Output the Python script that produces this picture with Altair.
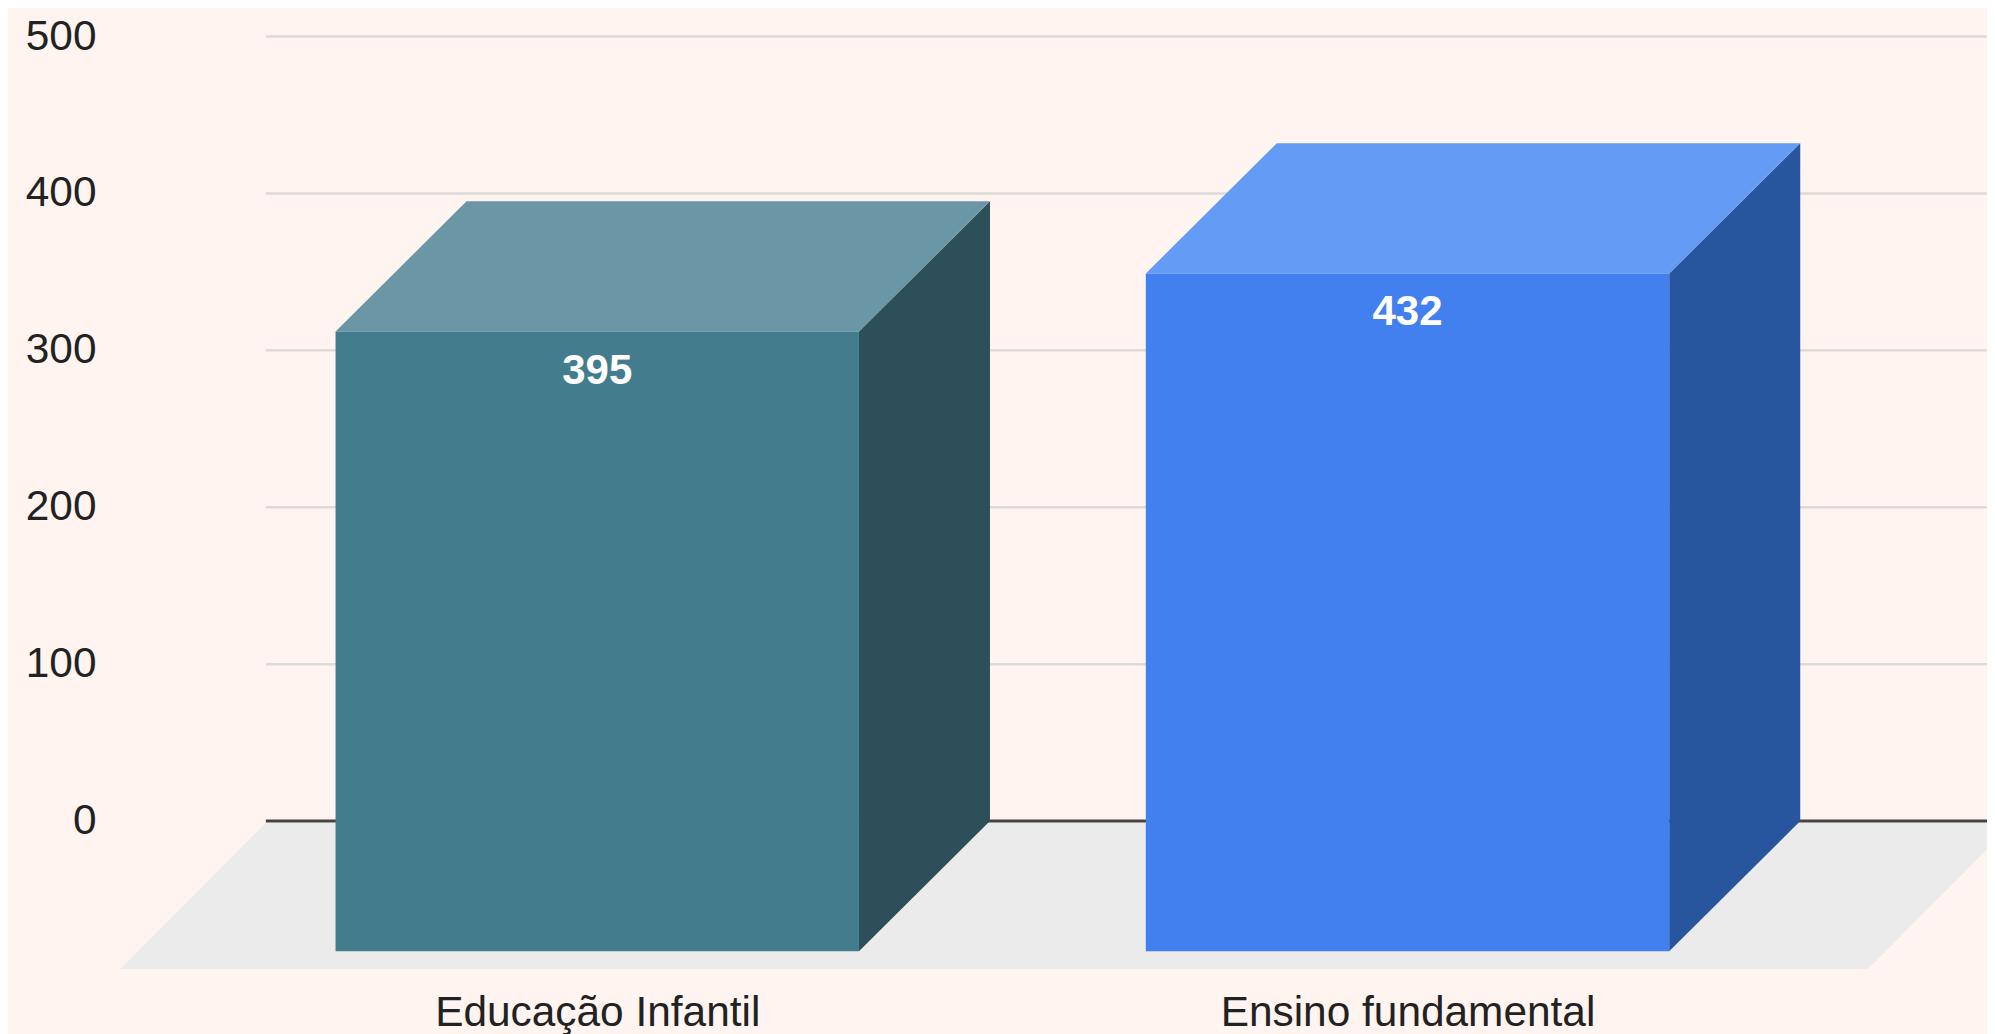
import altair as alt
import pandas as pd

categories = ["Educação Infantil", "Ensino fundamental"]
values = [395, 432]
front_colors = ["#437c8d", "#4280ef"]
side_colors = ["#2d4f5a", "#28569e"]
top_colors = ["#6a96a5", "#639bf5"]
y_ticks = [0, 100, 200, 300, 400, 500]

BG = "#fff4ef"
FONT = "Liberation Sans"
HALF = 0.323        # half bar width, in category steps
DX = 0.1617         # depth along x, in category steps
DY = 83.0           # depth along y, in value units
FLOOR = -94.3       # floor front edge, in value units

x_scale = alt.Scale(domain=[-0.6137, 1.7152], nice=False, zero=False)
y_scale = alt.Scale(domain=[-104.5, 518.2], nice=False, zero=False)

x_axis = alt.Axis(
    values=[0, 1],
    labelExpr="datum.value === 0 ? '%s' : '%s'" % (categories[0], categories[1]),
    title=None, grid=False, domain=False, ticks=False,
    labelFont=FONT, labelFontSize=42.4, labelColor="#222222",
    labelBaseline="alphabetic", labelPadding=40, labelLimit=800,
    labelOverlap=False, labelFlush=False,
)
y_axis = alt.Axis(
    values=y_ticks, title=None, grid=False, domain=False, ticks=False,
    labelFont=FONT, labelFontSize=42.4, labelColor="#222222",
    labelPadding=4, labelOffset=-0.5, labelOverlap=False, labelFlush=False,
)


def X(field="x"):
    return alt.X(field, type="quantitative", scale=x_scale, axis=x_axis)


def Y(field="y"):
    return alt.Y(field, type="quantitative", scale=y_scale, axis=y_axis)


fronts, sides, tops = [], [], []
for i, (v, fc, sc, tc) in enumerate(zip(values, front_colors, side_colors, top_colors)):
    l, r = i - HALF, i + HALF
    fronts.append(dict(x=l, x2=r, y=-DY, y2=v - DY, fill=fc, label=str(v), cx=i))
    sides += [
        dict(x=r, y=-DY, y2=v - DY, fill=sc),
        dict(x=r + DX, y=0, y2=v, fill=sc),
    ]
    tops += [
        dict(y=v - DY, x=l, x2=r, fill=tc),
        dict(y=v, x=l + DX, x2=r + DX, fill=tc),
    ]

floor_df = pd.DataFrame(
    [
        dict(y=FLOOR, x=-0.589, x2=1.568),
        dict(y=-1.2, x=-0.409, x2=1.748),
    ]
)
grid_df = pd.DataFrame({"y": [t for t in y_ticks if t != 0]}).assign(x=-0.409, x2=1.7152)
zero_df = pd.DataFrame({"y": [0], "x": [-0.409], "x2": [1.7152]})

floor = (
    alt.Chart(floor_df)
    .mark_area(orient="horizontal", color="#ebebeb")
    .encode(x=X(), x2="x2", y=Y())
)
grid = (
    alt.Chart(grid_df)
    .mark_rule(color="#dedad7", strokeWidth=2.5)
    .encode(x=X(), x2="x2", y=Y())
)
zero = (
    alt.Chart(zero_df)
    .mark_rule(color="#444444", strokeWidth=3)
    .encode(x=X(), x2="x2", y=Y())
)
side = (
    alt.Chart(pd.DataFrame(sides))
    .mark_area(orient="vertical")
    .encode(x=X(), y=Y(), y2="y2", color=alt.Color("fill:N", scale=None))
)
top = (
    alt.Chart(pd.DataFrame(tops))
    .mark_area(orient="horizontal")
    .encode(x=X(), x2="x2", y=Y(), color=alt.Color("fill:N", scale=None))
)
front_df = pd.DataFrame(fronts)
front = (
    alt.Chart(front_df)
    .mark_rect()
    .encode(x=X(), x2="x2", y=Y(), y2="y2", color=alt.Color("fill:N", scale=None))
)
labels = (
    alt.Chart(front_df)
    .mark_text(font=FONT, fontSize=42, fontWeight="bold", color="#ffffff", baseline="alphabetic", dy=52)
    .encode(x=X("cx"), y=Y("y2"), text="label:N")
)

chart = (
    alt.layer(floor, grid, zero, side, top, front, labels)
    .properties(
        width=1887,
        height=977,
        background=BG,
        padding={"left": 92, "top": 0, "right": 0, "bottom": 49},
        autosize=alt.AutoSizeParams(type="none"),
    )
    .configure_view(stroke=None)
)

chart.save("out.html", embed_options={"renderer": "svg", "actions": False})
